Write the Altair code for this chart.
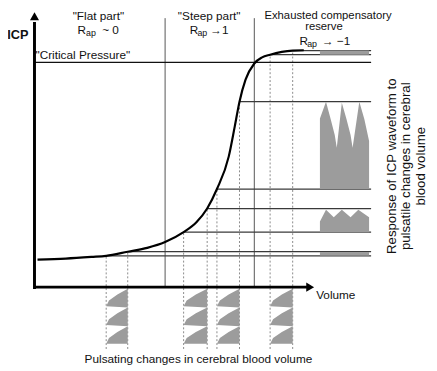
import altair as alt
import pandas as pd

# ---------------- values (arbitrary Volume / ICP units) ----------------
curve_volume = [0.9, 9.3, 16.9, 21.3, 27.7, 33.5, 38.8, 44.3, 48.1, 51.3, 54.2, 57.7, 59.5,
                60.9, 62.7, 65.3, 67.6, 70.0, 76.7, 80.0]
curve_icp = [10.0, 10.4, 11.0, 11.4, 12.9, 14.3, 16.4, 20.0, 23.6, 28.6, 35.7, 47.5, 58.5,
             67.5, 75.5, 81.4, 83.6, 84.6, 86.1, 86.2]

zone_boundaries = [38.8, 65.3]
zone_top = 97.9
critical_pressure = 81.8

probe_volume = [21.3, 27.7, 44.3, 51.3, 54.2, 60.9, 70.0, 76.7]
probe_icp = [11.4, 12.9, 20.0, 28.6, 35.7, 67.5, 84.6, 86.1]
probe_pair = ["A", "A", "B", "B", "C", "C", "D", "D"]
right_edge = 100.0
probe_bottom = -22.5

# ICP response waveforms (right side)
wave_big_x = [84.8, 86.6, 88.0, 89.2, 89.8, 91.3, 92.7, 93.9, 94.5, 96.5, 98.0, 99.4]
wave_big_y = [61.4, 67.5, 61.1, 55.4, 50.7, 67.1, 61.1, 55.4, 50.7, 67.5, 61.1, 53.2]
wave_big_base = 35.7
wave_mid_x = [84.8, 86.6, 88.9, 91.3, 93.9, 96.2, 99.4]
wave_mid_y = [23.9, 28.2, 25.4, 28.2, 25.4, 28.2, 25.4]
wave_mid_base = 20.0
band_x = [84.8, 99.4]
band_small = [11.5, 12.8]
band_top = [84.6, 86.1]

# pulsatile changes in cerebral blood volume (below the axis)
pulse_tops = [-0.6, -7.4, -14.2]
pulse_height = 6.4
pulse_shape_t = [0.0, 0.33, 0.67, 1.0]
pulse_shape_w = [0.0, 0.48, 0.87, 1.0]

axis_x_end = 81.9
axis_y_end = 96.5
arrow_y_tip = 98.6

X_DOMAIN = [-7.87, 117.2]
Y_DOMAIN = [-29.29, 100.36]

xs = alt.Scale(domain=X_DOMAIN, nice=False, zero=False)
ys = alt.Scale(domain=Y_DOMAIN, nice=False, zero=False)


def X(f):
    return alt.X(f, type="quantitative", scale=xs, axis=None)


def Y(f):
    return alt.Y(f, type="quantitative", scale=ys, axis=None)


# ---------------- tables ----------------
zones = pd.DataFrame({"v": zone_boundaries, "y0": 0.0, "y1": zone_top})
probes = pd.DataFrame({"v": probe_volume, "icp": probe_icp, "pair": probe_pair,
                       "bottom": probe_bottom, "right": right_edge})
crit = pd.DataFrame({"v0": [0.0], "v1": [right_edge], "icp": [critical_pressure]})
curve = pd.DataFrame({"v": curve_volume, "icp": curve_icp})

waves = pd.DataFrame(
    {"v": wave_big_x + wave_mid_x,
     "top": wave_big_y + wave_mid_y,
     "base": [wave_big_base] * len(wave_big_x) + [wave_mid_base] * len(wave_mid_x),
     "g": ["big"] * len(wave_big_x) + ["mid"] * len(wave_mid_x)})
bands = pd.DataFrame({"x0": [band_x[0], band_x[0]], "x1": [band_x[1], band_x[1]],
                      "y0": [band_small[0], band_top[0]], "y1": [band_small[1], band_top[1]]})

rows = []
for p in sorted(set(probe_pair)):
    vs = [v for v, q in zip(probe_volume, probe_pair) if q == p]
    left, right = min(vs), max(vs)
    for t0 in pulse_tops:
        for ft, fw in zip(pulse_shape_t, pulse_shape_w):
            rows.append({"g": p, "t": t0 - ft * pulse_height,
                         "xl": right - fw * (right - left), "xr": right})
pulses = pd.DataFrame(rows)

axes_lines = pd.DataFrame({"x0": [0.0, 0.0], "x1": [axis_x_end, 0.0],
                           "y0": [0.0, -0.7], "y1": [0.0, axis_y_end]})
arrow_up = pd.DataFrame({"v": [0.0], "icp": [arrow_y_tip]})
arrow_right = pd.DataFrame({"v": [axis_x_end], "icp": [0.0]})

# ---------------- layers ----------------
gray_fill = "#9c9c9c"

zone_rules = alt.Chart(zones).mark_rule(color="#555555", strokeWidth=1).encode(
    x=X("v"), y=Y("y0"), y2=alt.Y2("y1"))

probe_rules = alt.Chart(probes).mark_rule(color="#8a8a8a", strokeWidth=1,
                                          strokeDash=[2, 2]).encode(
    x=X("v"), y=Y("bottom"), y2=alt.Y2("icp"))

level_rules = alt.Chart(probes).mark_rule(color="#3a3a3a", strokeWidth=1.2).encode(
    x=X("v"), x2=alt.X2("right"), y=Y("icp"))

crit_rule = alt.Chart(crit).mark_rule(color="#111111", strokeWidth=1.2).encode(
    x=X("v0"), x2=alt.X2("v1"), y=Y("icp"))

wave_area = alt.Chart(waves).mark_area(color=gray_fill, orient="vertical",
                                       opacity=1).encode(
    x=X("v"), y=Y("top"), y2=alt.Y2("base"), detail="g:N")

band_rect = alt.Chart(bands).mark_rect(color=gray_fill).encode(
    x=X("x0"), x2=alt.X2("x1"), y=Y("y0"), y2=alt.Y2("y1"))

pulse_area = alt.Chart(pulses).mark_area(color=gray_fill, orient="horizontal",
                                         opacity=1).encode(
    y=Y("t"), x=X("xl"), x2=alt.X2("xr"), detail="g:N")

curve_line = alt.Chart(curve).mark_line(color="black", strokeWidth=2.2,
                                        interpolate="monotone").encode(
    x=X("v"), y=Y("icp"))

axis_rules = alt.Chart(axes_lines).mark_rule(color="black", strokeWidth=3).encode(
    x=X("x0"), x2=alt.X2("x1"), y=Y("y0"), y2=alt.Y2("y1"))

arr_up = alt.Chart(arrow_up).mark_point(shape="triangle-up", filled=True, size=85,
                                        color="black", opacity=1).encode(
    x=X("v"), y=Y("icp"))
arr_right = alt.Chart(arrow_right).mark_point(shape="triangle-right", filled=True, size=85,
                                              color="black", opacity=1).encode(
    x=X("v"), y=Y("icp"))

# ---------------- texts ----------------
text_label = ["ICP", '"Flat part"', '"Steep part"', "Exhausted compensatory", "reserve",
              '"Critical Pressure"', "Volume", "Pulsating changes in cerebral blood volume",
              "R", "ap", "~ 0", "R", "ap", "→1", "R", "ap", "→ −1",
              "Response of ICP waveform to", "pulsatile changes in cerebral", "blood volume"]
text_v = [-4.96, 19.0, 51.9, 87.2, 86.0, 0.3, 89.5, 48.7,
          12.8, 15.3, 20.1, 46.1, 48.4, 52.2, 78.7, 81.0, 85.4,
          106.1, 110.5, 114.9]
text_icp = [91.8, 98.6, 98.6, 98.6, 94.5, 84.3, -2.9, -26.1,
            93.6, 92.3, 93.6, 93.6, 92.3, 93.6, 89.6, 88.4, 89.6,
            44.0, 44.0, 44.0]
text_size = [13, 12, 12, 11.5, 11.5, 12, 12, 12,
             12, 9, 12, 12, 9, 12, 12, 9, 12,
             13.5, 13.5, 13.5]
text_align = ["center", "center", "center", "center", "center", "left", "center", "center",
              "left", "left", "left", "left", "left", "left", "left", "left", "left",
              "center", "center", "center"]
text_weight = ["bold"] + ["normal"] * 19
text_angle = [0] * 17 + [270, 270, 270]

texts = pd.DataFrame({"label": text_label, "v": text_v, "icp": text_icp, "size": text_size,
                      "align": text_align, "weight": text_weight, "angle": text_angle})

text_layers = []
for (al, wt, an), sub in texts.groupby(["align", "weight", "angle"]):
    text_layers.append(
        alt.Chart(sub).mark_text(align=al, baseline="middle", fontWeight=wt, angle=int(an),
                                 font="Liberation Sans", color="#111111").encode(
            x=X("v"), y=Y("icp"), text="label:N",
            size=alt.Size("size:Q", scale=None, legend=None)))

chart = alt.layer(
    zone_rules, probe_rules, level_rules, crit_rule, wave_area, band_rect, pulse_area,
    curve_line, axis_rules, arr_up, arr_right, *text_layers
).properties(
    width=429, height=363, padding=0,
    autosize=alt.AutoSizeParams(type="none"),
).configure_view(strokeWidth=0)

chart.save("out.html", embed_options={"renderer": "svg", "actions": False})
